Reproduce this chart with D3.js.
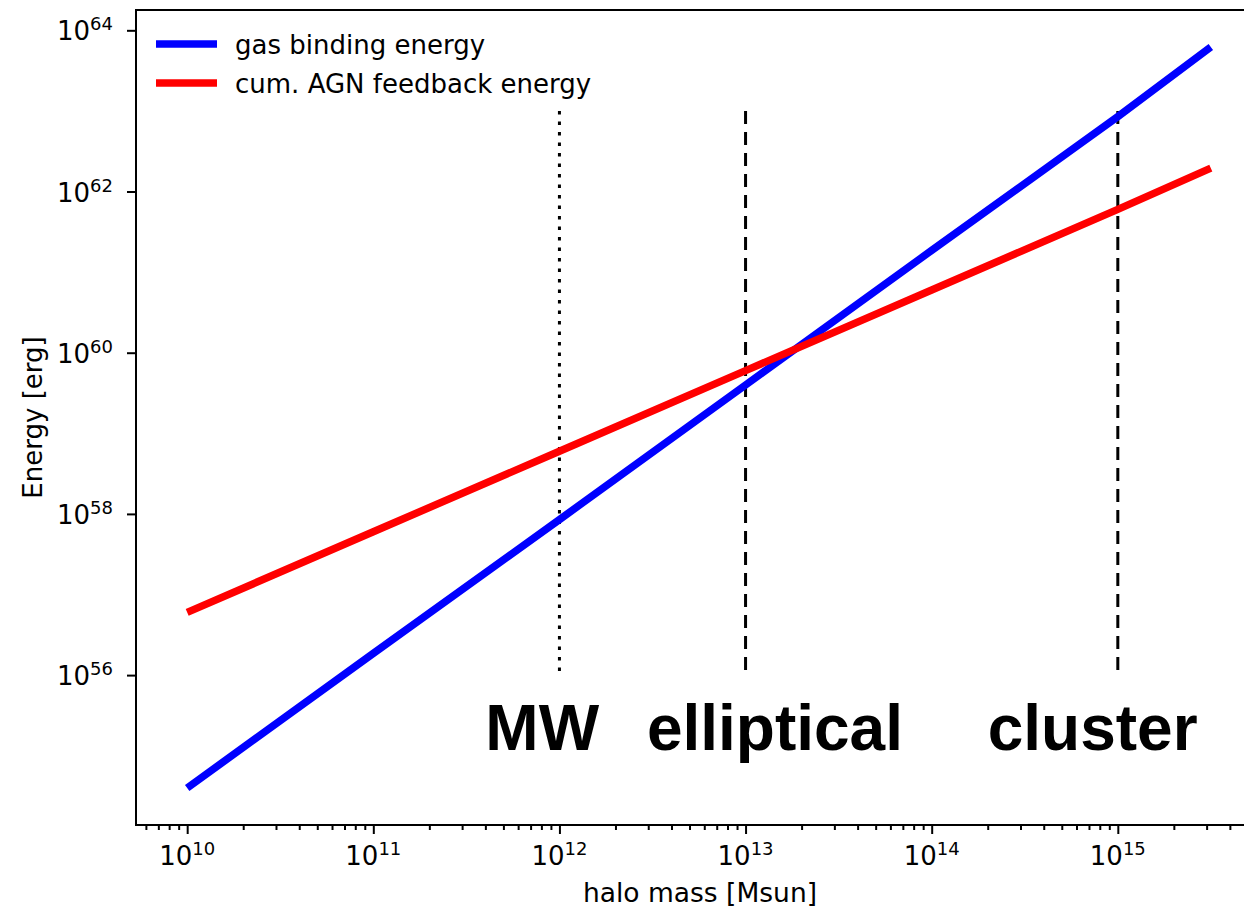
<!DOCTYPE html>
<html>
<head>
<meta charset="utf-8">
<script src="https://cdn.jsdelivr.net/npm/d3@7"></script>
<style>
  html, body { margin: 0; padding: 0; background: #fff; }
  svg { display: block; overflow: hidden; }
  .tick-label { font-family: "DejaVu Sans", sans-serif; fill: #000; }
</style>
</head>
<body>
<svg id="chart" width="1244" height="909"></svg>
<script>
// Halo mass in solar masses
const haloMass = [1e10, 1e11, 1e12, 1e13, 1e14, 1e15, 3.16e15];
// Gas binding energy [erg], scales roughly as M^(5/3)
const bindingEnergy = [3.98e54, 1.86e56, 8.5e57, 3.98e59, 1.86e61, 8.5e62, 6.2e63];
// Cumulative AGN feedback energy [erg], scales roughly as M
const feedbackEnergy = [6.0e56, 6.0e57, 6.0e58, 6.0e59, 6.0e60, 6.0e61, 1.95e62];

// Reference mass scales marked by vertical lines
const markerNames = ["MW", "elliptical", "cluster"];
const markerMass = [1e12, 1e13, 1e15];
const markerStyle = ["dotted", "dashed", "dashed"];
const markerRange = [1e56, 1e63];
// Label anchor positions (left edge, baseline) in data units
const labelMass = [4e11, 2.95e12, 2e14];
const labelEnergy = 1.17e55;

// Tick exponents
const xTickExp = [10, 11, 12, 13, 14, 15];
const yTickExp = [56, 58, 60, 62, 64];

const seriesNames = ["gas binding energy", "cum. AGN feedback energy"];
const seriesColors = ["#0000ff", "#ff0000"];

const margin = { left: 136, top: 10 };
const plotW = 1126, plotH = 815;

const svg = d3.select("#chart");

// log-space padding of 5% on each side of the data extent
function paddedLogDomain(values) {
  const lo = Math.log10(d3.min(values)), hi = Math.log10(d3.max(values));
  const pad = (hi - lo) * 0.05;
  return [Math.pow(10, lo - pad), Math.pow(10, hi + pad)];
}

const x = d3.scaleLog()
  .domain(paddedLogDomain(haloMass))
  .range([margin.left, margin.left + plotW]);
const y = d3.scaleLog()
  .domain(paddedLogDomain(bindingEnergy.concat(feedbackEnergy)))
  .range([margin.top + plotH, margin.top]);

const g = svg.append("g");

// Vertical reference lines, dash pattern starting from the top end
markerMass.forEach((m, i) => {
  g.append("line")
    .attr("x1", x(m)).attr("x2", x(m))
    .attr("y1", y(markerRange[1])).attr("y2", y(markerRange[0]))
    .attr("stroke", "#000")
    .attr("stroke-width", 3)
    .attr("stroke-dasharray", markerStyle[i] === "dotted" ? "3.5,7" : "13,8");
});

// Energy curves
const line = d3.line().x((d) => x(d[0])).y((d) => y(d[1]));
[bindingEnergy, feedbackEnergy].forEach((vals, i) => {
  g.append("path")
    .datum(haloMass.map((m, j) => [m, vals[j]]))
    .attr("d", line)
    .attr("fill", "none")
    .attr("stroke", seriesColors[i])
    .attr("stroke-width", 7.5)
    .attr("stroke-linecap", "butt");
});

// Mass-scale labels
markerNames.forEach((name, i) => {
  g.append("text")
    .attr("x", x(labelMass[i]))
    .attr("y", y(labelEnergy))
    .attr("font-family", "'Liberation Sans', Arial, Helvetica, sans-serif")
    .attr("font-weight", "bold")
    .attr("font-size", 64)
    .attr("fill", "#000")
    .text(name);
});

// Axes
const minorX = [];
for (let k = 9; k <= 15; k++) {
  for (let s = 2; s <= 9; s++) {
    const v = s * Math.pow(10, k);
    if (v >= x.domain()[0] && v <= x.domain()[1]) minorX.push(v);
  }
}

const xAxis = svg.append("g")
  .attr("transform", `translate(0,${margin.top + plotH})`);
xAxis.call(d3.axisBottom(x).tickValues(minorX).tickSize(5).tickFormat(""));
xAxis.call((sel) => sel.select(".domain").remove());
const xMajor = svg.append("g")
  .attr("transform", `translate(0,${margin.top + plotH})`)
  .call(d3.axisBottom(x).tickValues(xTickExp.map((e) => Math.pow(10, e))).tickSize(9).tickFormat(""));
xMajor.select(".domain").remove();

const yAxis = svg.append("g")
  .attr("transform", `translate(${margin.left},0)`)
  .call(d3.axisLeft(y).tickValues(yTickExp.map((e) => Math.pow(10, e))).tickSize(9).tickFormat(""));
yAxis.select(".domain").remove();

svg.selectAll(".tick line").attr("stroke", "#000").attr("stroke-width", 2);

// Tick labels with superscript exponents
xTickExp.forEach((e) => {
  const t = svg.append("text")
    .attr("class", "tick-label")
    .attr("x", x(Math.pow(10, e)))
    .attr("y", 865)
    .attr("text-anchor", "middle")
    .attr("font-size", 26);
  t.append("tspan").text("10");
  t.append("tspan").attr("font-size", 18).attr("dy", -10).text(String(e));
});
yTickExp.forEach((e) => {
  const t = svg.append("text")
    .attr("class", "tick-label")
    .attr("x", 113)
    .attr("y", y(Math.pow(10, e)) + 10)
    .attr("text-anchor", "end")
    .attr("font-size", 26);
  t.append("tspan").text("10");
  t.append("tspan").attr("font-size", 18).attr("dy", -10).text(String(e));
});

// Frame
svg.append("rect")
  .attr("x", margin.left).attr("y", margin.top)
  .attr("width", plotW).attr("height", plotH)
  .attr("fill", "none")
  .attr("stroke", "#000")
  .attr("stroke-width", 2);

// Axis titles
svg.append("text")
  .attr("x", 700)
  .attr("y", 902)
  .attr("text-anchor", "middle")
  .attr("font-family", "'DejaVu Sans', sans-serif")
  .attr("font-size", 26.5)
  .text("halo mass [Msun]");
svg.append("text")
  .attr("transform", `translate(42,${margin.top + plotH / 2}) rotate(-90)`)
  .attr("text-anchor", "middle")
  .attr("font-family", "'DejaVu Sans', sans-serif")
  .attr("font-size", 26)
  .text("Energy [erg]");

// Legend
const legend = svg.append("g");
seriesNames.forEach((name, i) => {
  const ly = 44 + i * 39;
  legend.append("line")
    .attr("x1", 156).attr("x2", 217)
    .attr("y1", ly).attr("y2", ly)
    .attr("stroke", seriesColors[i])
    .attr("stroke-width", 7.5);
  legend.append("text")
    .attr("x", 235).attr("y", ly + 10)
    .attr("font-family", "'DejaVu Sans', sans-serif")
    .attr("font-size", 26)
    .text(name);
});
</script>
</body>
</html>
